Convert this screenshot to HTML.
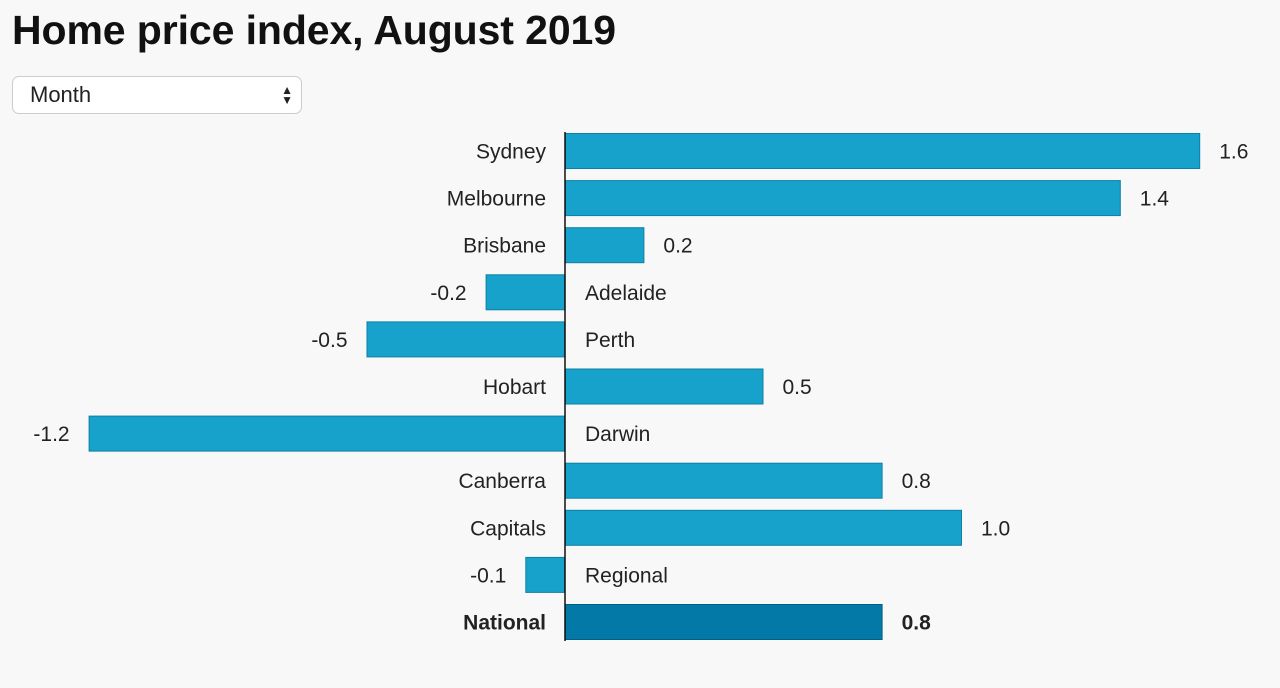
<!DOCTYPE html>
<html><head><meta charset="utf-8"><style>
body{margin:0;background:#f8f8f8;width:1280px;height:688px;overflow:hidden;font-family:"Liberation Sans",sans-serif;}
h1{position:absolute;left:12px;top:7px;margin:0;font-size:41px;font-weight:bold;color:#111;letter-spacing:-0.1px}
.sel{position:absolute;left:12px;top:76px;width:290px;height:38px;border:1px solid #ccc;border-radius:7px;background:#fff;box-sizing:border-box;font-size:22px;color:#222;padding:5px 0 0 17px}
.arr{position:absolute;right:8px;top:8px;font-size:12px;line-height:10px}
svg{position:absolute;left:0;top:0}
</style></head><body>
<h1>Home price index, August 2019</h1>
<div class="sel">Month<div class="arr">▲<br>▼</div></div>
<svg id="c" width="1280" height="688"></svg>
<script>
const categories=["Sydney","Melbourne","Brisbane","Adelaide","Perth","Hobart","Darwin","Canberra","Capitals","Regional","National"];
const values=[1.6,1.4,0.2,-0.2,-0.5,0.5,-1.2,0.8,1.0,-0.1,0.8];
const labels=["1.6","1.4","0.2","-0.2","-0.5","0.5","-1.2","0.8","1.0","-0.1","0.8"];
const NS="http://www.w3.org/2000/svg",svg=document.getElementById('c');
const x0=565,k=397,top0=133,pitch=47.1,bh=36;
const xs=v=>x0+v*k, ys=i=>top0+i*pitch;
function mk(t,a){const e=document.createElementNS(NS,t);for(const n in a)e.setAttribute(n,a[n]);svg.appendChild(e);return e;}
categories.forEach((c,i)=>{
 const v=values[i],nat=c==="National";
 const x=Math.min(xs(0),xs(v)),w=Math.abs(xs(v)-xs(0)),y=ys(i);
 const r=mk('rect',{x:x+0.5,y:y+0.5,width:w-1,height:bh-1,fill:nat?'#0279a6':'#17a2cc',stroke:nat?'#035f85':'#0e7fa6','stroke-width':1});
 
 
 const cy=y+bh/2+7.5;
 const lab=mk('text',{x:v>=0?x0-19:x0+20,y:cy,'text-anchor':v>=0?'end':'start','font-size':21,fill:'#222','font-weight':nat?'bold':'normal'});
 lab.textContent=c;
 
 
 const vl=mk('text',{x:v>=0?xs(v)+19:xs(v)-19,y:cy,'text-anchor':v>=0?'start':'end','font-size':21,fill:'#222','font-weight':nat?'bold':'normal'});
 vl.textContent=labels[i];
 
 
});
const ax=mk('line',{x1:x0,x2:x0,y1:top0-1,y2:ys(categories.length-1)+bh+1,stroke:'#111','stroke-width':1.5});


</script>
</body></html>
